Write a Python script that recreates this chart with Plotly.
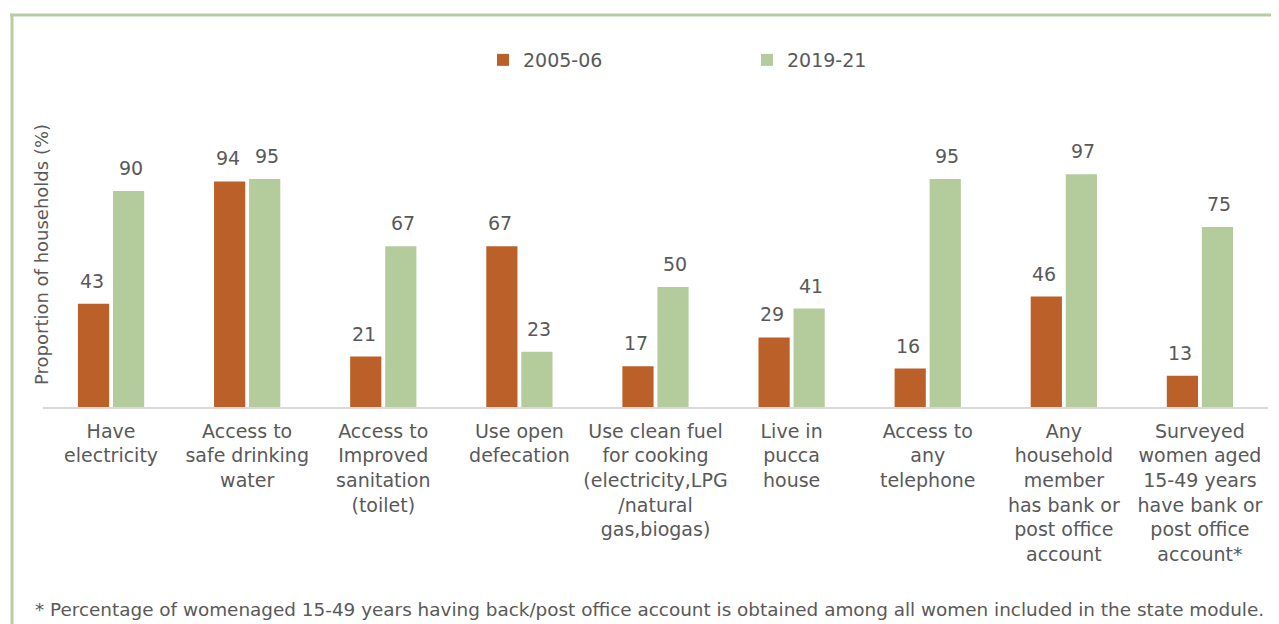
import plotly.graph_objects as go

categories = [
    "Have<br>electricity",
    "Access to<br>safe drinking<br>water",
    "Access to<br>Improved<br>sanitation<br>(toilet)",
    "Use open<br>defecation",
    "Use clean fuel<br>for cooking<br>(electricity,LPG<br>/natural<br>gas,biogas)",
    "Live in<br>pucca<br>house",
    "Access to<br>any<br>telephone",
    "Any<br>household<br>member<br>has bank or<br>post office<br>account",
    "Surveyed<br>women aged<br>15-49 years<br>have bank or<br>post office<br>account*",
]
series_names = ["2005-06", "2019-21"]
values_2005 = [43, 94, 21, 67, 17, 29, 16, 46, 13]
values_2019 = [90, 95, 67, 23, 50, 41, 95, 97, 75]
y_title = "Proportion of households (%)"
footnote = "* Percentage of womenaged 15-49 years having back/post office account is obtained among all women included in the state module."

FONT = "DejaVu Sans"
GREY = "#595959"
ORANGE = "#BA6028"
GREEN = "#B4CB9C"
BORDER = "#B7CC9F"

# page has an 8px body margin
W, H = 1271, 616
L, R, T, B = 35, 11, 159, 217
PL, PR, PT, PB = 43, 1268, 167, 407  # plot area in page pixels
pw = PR - PL
ph = PB - PT

def px_x(px):
    return (px - PL) / pw

def px_y(py):
    return (PB - py) / ph

fig = go.Figure()
for name, vals, col in [(series_names[0], values_2005, ORANGE), (series_names[1], values_2019, GREEN)]:
    fig.add_trace(go.Bar(
        x=categories, y=vals, name=name, marker=dict(color=col, line=dict(width=0)),
    ))

annotations = []
for vals, shift in [(values_2005, -19.5), (values_2019, 19.5)]:
    for c, v in zip(categories, vals):
        annotations.append(dict(
            x=c, y=v, xref="x", yref="y", text=str(v), showarrow=False,
            xshift=shift, yshift=10, yanchor="bottom",
            font=dict(family=FONT, size=19, color=GREY),
        ))

annotations += [
    dict(text=y_title, xref="paper", yref="paper", x=px_x(41), y=px_y(255),
         textangle=-90, showarrow=False, xanchor="center", yanchor="middle",
         font=dict(family=FONT, size=18, color=GREY)),
    dict(text=footnote, xref="paper", yref="paper", x=px_x(33), y=px_y(609),
         showarrow=False, xanchor="left", yanchor="middle",
         font=dict(family=FONT, size=18.4, color=GREY)),
]

fig.update_layout(
    width=W, height=H, autosize=False,
    margin=dict(l=L, r=R, t=T, b=B),
    paper_bgcolor="white", plot_bgcolor="white",
    font=dict(family=FONT, size=18, color=GREY),
    barmode="group", bargap=0.485, bargroupgap=0.11,
    showlegend=True,
    legend=dict(orientation="h", x=px_x(483), xanchor="left", y=px_y(60), yanchor="middle",
                font=dict(family=FONT, size=19, color=GREY), itemwidth=30,
                entrywidth=219, entrywidthmode="pixels", traceorder="normal"),
    xaxis=dict(showline=True, linecolor="#D9D9D9", linewidth=1.5, ticks="",
               tickfont=dict(family=FONT, size=19, color=GREY), fixedrange=True,
               ticklabelstandoff=6),
    yaxis=dict(range=[0, 100], showgrid=False, showticklabels=False, zeroline=False,
               showline=False, fixedrange=True),
    annotations=annotations,
    shapes=[
        dict(type="line", xref="paper", yref="paper", x0=px_x(10), x1=px_x(1285),
             y0=px_y(15), y1=px_y(15), line=dict(color=BORDER, width=3)),
        dict(type="line", xref="paper", yref="paper", x0=px_x(12), x1=px_x(12),
             y0=px_y(14), y1=px_y(630), line=dict(color=BORDER, width=3)),
    ],
)

fig.write_html("out.html")
